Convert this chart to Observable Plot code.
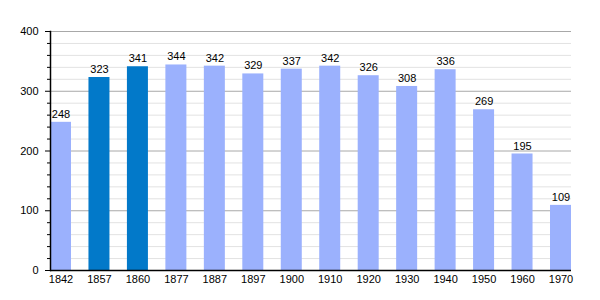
<!DOCTYPE html>
<html><head><meta charset="utf-8">
<script src="https://cdn.jsdelivr.net/npm/d3@7"></script>
<script src="https://cdn.jsdelivr.net/npm/@observablehq/plot@0.6"></script>
<style>body{margin:0;background:#fff}</style>
</head><body><div id="chart"></div>
<script>
const years = ["1842","1857","1860","1877","1887","1897","1900","1910","1920","1930","1940","1950","1960","1970"];
const population = [248,323,341,344,342,329,337,342,326,308,336,269,195,109];
const highlighted = ["1857","1860"];
const majorTicks = [0,100,200,300,400];
const minorTicks = d3.range(20,400,20).filter(v => v % 100 !== 0);

const data = years.map((y,i) => ({year:y, value:population[i], hi: highlighted.includes(y)}));

const chart = Plot.plot({
  width: 600, height: 300,
  marginLeft: 50, marginRight: 29, marginTop: 31, marginBottom: 30,
  style: {fontFamily: "Liberation Sans, Arial, sans-serif", fontSize: "11px", color: "#000"},
  x: {domain: years, paddingInner: 0.454, paddingOuter: 0, round: false, label: null},
  y: {domain: [0,400], label: null},
  marks: [
    Plot.ruleY(minorTicks, {stroke: "#e2e2e2", strokeWidth: 1}),
    Plot.ruleY(majorTicks.slice(1), {stroke: "#a8a8a8", strokeWidth: 1}),
    Plot.barY(data, {x: "year", y: "value", fill: d => d.hi ? "#0279c9" : "#9bb1fd"}),
    Plot.text(data, {x: "year", y: "value", text: d => String(d.value), dy: -8, fontSize: 11, fill: "#000"}),
    Plot.axisY(minorTicks, {tickSize: 3, stroke: "#000", text: null}),
    Plot.axisY(majorTicks, {tickSize: 5, tickPadding: 7, stroke: "#000", fontSize: 11}),
    Plot.axisX({tickSize: 0, tickPadding: 5, fontSize: 11}),
    Plot.ruleY([0], {stroke: "#000", strokeWidth: 1.5}),
    Plot.frame({anchor: "left", stroke: "#000", strokeWidth: 1.5})
  ]
});
document.getElementById("chart").appendChild(chart);
</script>
</body></html>
